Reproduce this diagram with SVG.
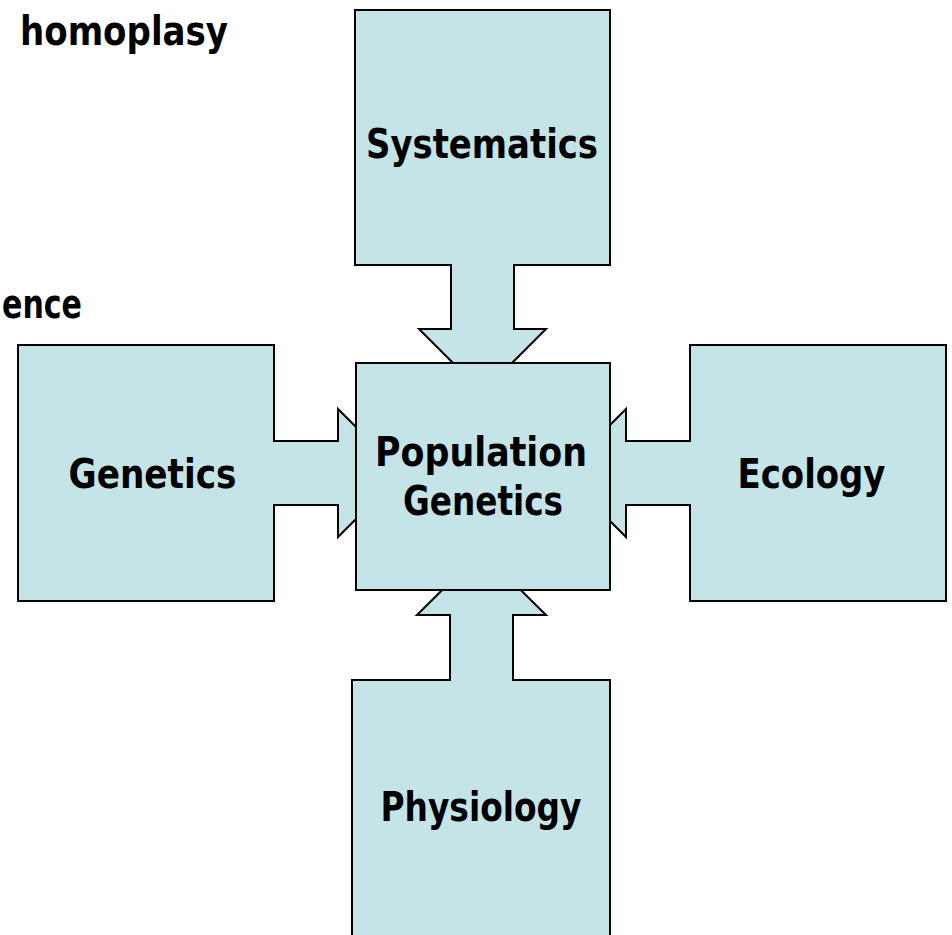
<svg xmlns="http://www.w3.org/2000/svg" width="952" height="935" viewBox="0 0 952 935">
<style>
.sh{fill:#c5e4e8;stroke:#000;stroke-width:2;stroke-linejoin:miter}
.t{font-family:"DejaVu Sans Condensed","DejaVu Sans",sans-serif;font-weight:bold;font-size:41px;fill:#000;text-anchor:middle}
.f{font-family:"DejaVu Sans Condensed","DejaVu Sans",sans-serif;font-weight:bold;font-size:40px;fill:#000}
</style>
<rect width="952" height="935" fill="#fff"/>
<text class="f" x="20" y="45" textLength="208" lengthAdjust="spacingAndGlyphs">homoplasy</text>
<text class="f" x="2" y="318" textLength="80" lengthAdjust="spacingAndGlyphs">ence</text>
<g id="connectors">
</g>
<g id="systematics">
<polygon class="sh" points="355,10 610,10 610,265 514,265 514,329 546,329 482.5,392.5 419,329 451,329 451,265 355,265"/>
<text class="t" x="482" y="158" textLength="232" lengthAdjust="spacingAndGlyphs">Systematics</text>
</g>
<g id="genetics">
<polygon class="sh" points="18,345 274,345 274,441 338,441 338,409 402,473 338,537 338,505 274,505 274,601 18,601"/>
<text class="t" x="152.5" y="488" textLength="168" lengthAdjust="spacingAndGlyphs">Genetics</text>
</g>
<g id="ecology">
<polygon class="sh" points="946,345 690,345 690,441 626,441 626,409 562,473 626,537 626,505 690,505 690,601 946,601"/>
<text class="t" x="811.5" y="488" textLength="148" lengthAdjust="spacingAndGlyphs">Ecology</text>
</g>
<g id="physiology">
<polygon class="sh" points="352,940 610,940 610,680 513,680 513,615 546,615 481.5,551 417,615 450,615 450,680 352,680"/>
<text class="t" x="481" y="821" textLength="201" lengthAdjust="spacingAndGlyphs">Physiology</text>
</g>
<g id="population-genetics">
<rect class="sh" x="356" y="363" width="254" height="227"/>
<text class="t" x="481" y="466" textLength="212" lengthAdjust="spacingAndGlyphs">Population</text>
<text class="t" x="483" y="515" textLength="160" lengthAdjust="spacingAndGlyphs">Genetics</text>
</g>
</svg>
